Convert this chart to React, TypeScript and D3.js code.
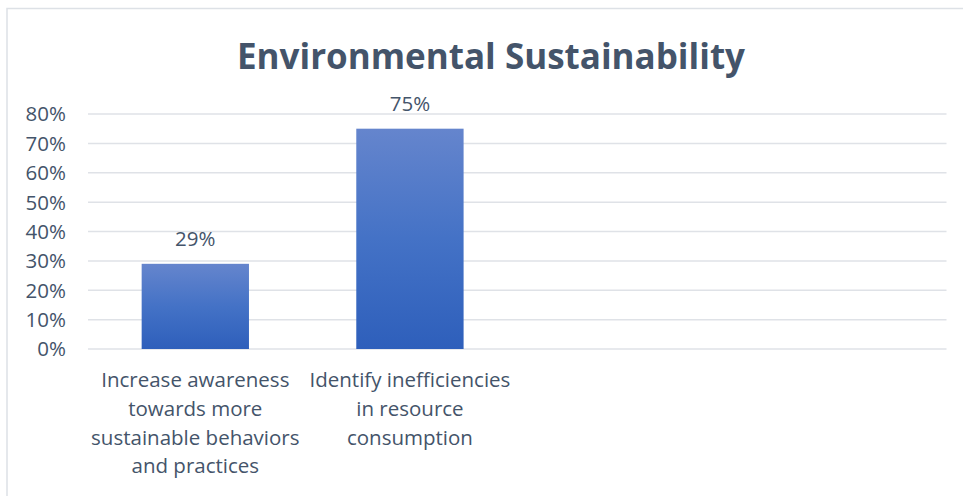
import React from "react";
import * as d3 from "d3";

const title = "Environmental Sustainability";
const categories = [
  "Increase awareness towards more sustainable behaviors and practices",
  "Identify inefficiencies in resource consumption",
  "",
  "",
];
const categoryLines = [
  ["Increase awareness", "towards more", "sustainable behaviors", "and practices"],
  ["Identify inefficiencies", "in resource", "consumption"],
  [],
  [],
];
const values: (number | null)[] = [0.29, 0.75, null, null];
const yTicks = [0, 0.1, 0.2, 0.3, 0.4, 0.5, 0.6, 0.7, 0.8];

const W = 963;
const H = 496;
const FONT = "'Open Sans', 'Noto Sans', sans-serif";
const TEXT = "#44546a";
const FS = 20.5;

export default function App() {
  const x = d3
    .scaleBand<string>()
    .domain(categories.map((c, i) => String(i)))
    .range([88, 946.5])
    .paddingInner(0.5)
    .paddingOuter(0.25);
  const y = d3.scaleLinear().domain([0, 0.8]).range([349, 114]);
  const fmt = d3.format(".0%");

  return (
    <svg
      width={W}
      height={H}
      style={{ position: "absolute", left: 0, top: 0, background: "#fff" }}
    >
      <defs>
        <linearGradient id="barGrad" x1="0" y1="0" x2="0" y2="1">
          <stop offset="0%" stopColor="#6585cd" />
          <stop offset="50%" stopColor="#4472c6" />
          <stop offset="100%" stopColor="#2e5fbb" />
        </linearGradient>
      </defs>
      <rect x={0} y={0} width={W} height={H} fill="#fff" />
      <path d={`M7,${H} V8.5 H${W}`} fill="none" stroke="#dde1e6" strokeWidth={1.5} />
      <text
        x={491}
        y={69}
        textAnchor="middle"
        fontFamily={FONT}
        fontWeight={700}
        fontSize={35}
        fill={TEXT}
      >
        {title}
      </text>
      {yTicks.map((t) => (
        <g key={t}>
          <line x1={88} x2={946.5} y1={y(t)} y2={y(t)} stroke="#dfe2e7" strokeWidth={1.5} />
          <text
            x={66}
            y={y(t)}
            dy="0.36em"
            textAnchor="end"
            fontFamily={FONT}
            fontSize={FS}
            fill={TEXT}
          >
            {fmt(t)}
          </text>
        </g>
      ))}
      {values.map((v, i) =>
        v == null ? null : (
          <g key={i}>
            <rect
              x={x(String(i))!}
              y={y(v)}
              width={x.bandwidth()}
              height={y(0) - y(v)}
              fill="url(#barGrad)"
            />
            <text
              x={x(String(i))! + x.bandwidth() / 2}
              y={y(v) - 18}
              textAnchor="middle"
              fontFamily={FONT}
              fontSize={FS}
              fill={TEXT}
            >
              {fmt(v)}
            </text>
          </g>
        )
      )}
      {categoryLines.map((lines, i) => (
        <text
          key={i}
          x={x(String(i))! + x.bandwidth() / 2}
          y={387}
          textAnchor="middle"
          fontFamily={FONT}
          fontSize={FS}
          fill={TEXT}
        >
          <title>{categories[i]}</title>
          {lines.map((l, j) => (
            <tspan key={j} x={x(String(i))! + x.bandwidth() / 2} dy={j === 0 ? 0 : 28.8}>
              {l}
            </tspan>
          ))}
        </text>
      ))}
    </svg>
  );
}
